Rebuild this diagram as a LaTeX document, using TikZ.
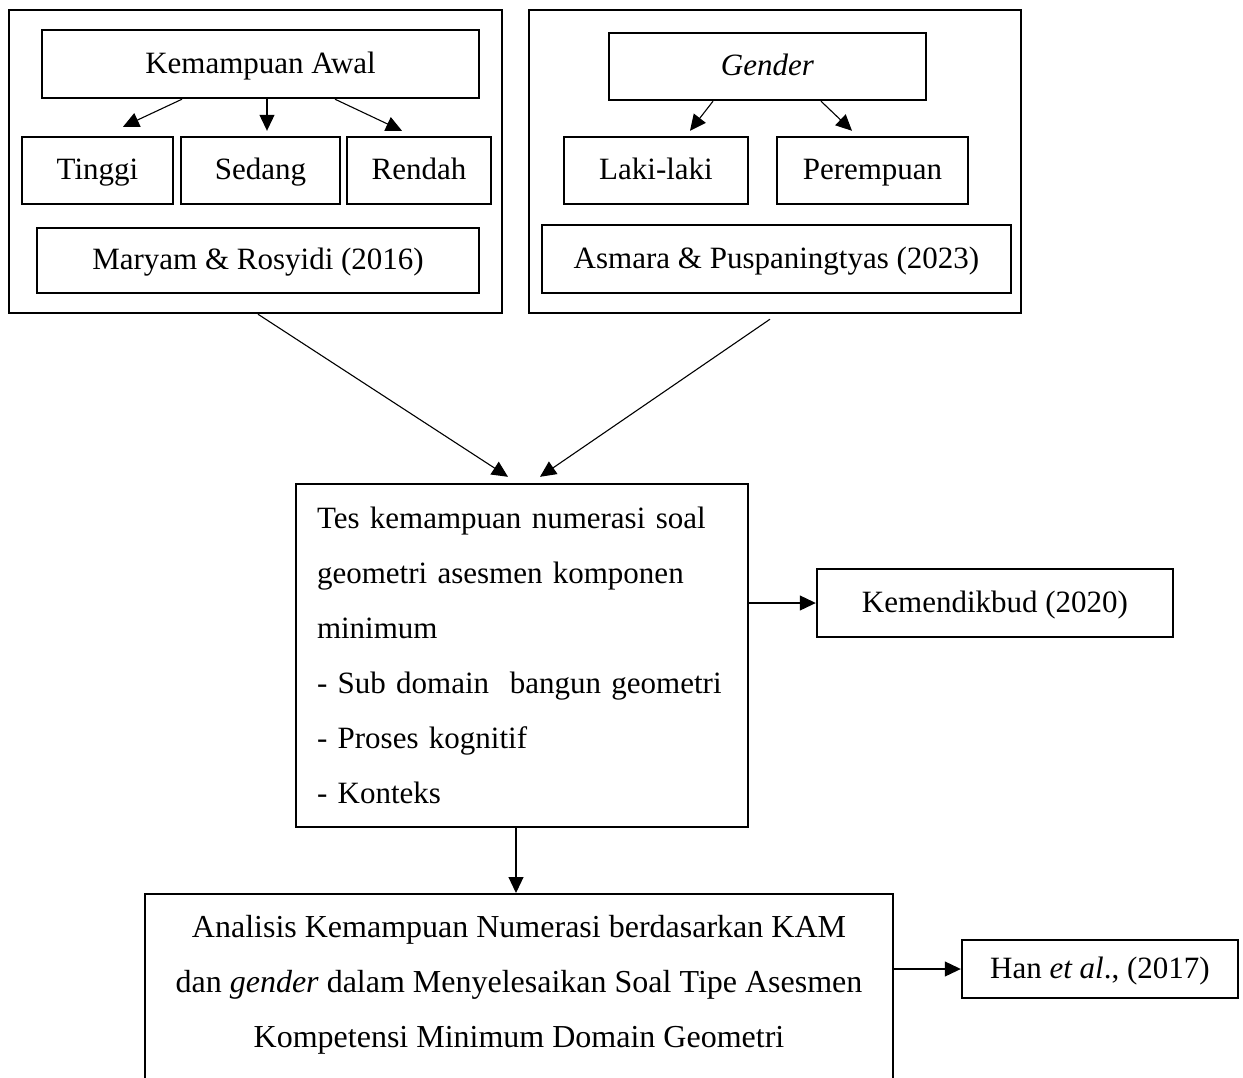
\documentclass[tikz,border=0pt]{standalone}
\usepackage{fontspec}
\setmainfont{Liberation Serif}
\usetikzlibrary{arrows.meta,calc}
\begin{document}
\begin{tikzpicture}[x=1pt,y=-1pt,
  frame/.style={draw, line width=2.4pt, inner sep=0pt, font=\fontsize{31pt}{55pt}\selectfont},
  box/.style={frame, text height=23pt, text depth=5pt},
  arr/.style={draw, line width=1.1pt, -{Triangle[length=16pt,width=15pt]}},
  txt/.style={inner sep=0pt, font=\fontsize{32pt}{55pt}\selectfont, align=center}]
\useasboundingbox (0,0) rectangle (1243,1077);
% left group
\node[frame, minimum width=493pt, minimum height=303pt] (L) at (255.5,161.5) {};
\node[box, minimum width=437pt, minimum height=68pt] (ka) at (260.5,64) {Kemampuan Awal};
\node[box, minimum width=151pt, minimum height=67pt] (ti) at (97.5,170.5) {Tinggi};
\node[box, minimum width=159pt, minimum height=67pt] (se) at (260.5,170.5) {Sedang};
\node[box, minimum width=144pt, minimum height=67pt] (re) at (419,170.5) {Rendah};
\node[box, minimum width=442pt, minimum height=65pt] (ma) at (258,260.5) {Maryam \& Rosyidi (2016)};
% right group
\node[frame, minimum width=492pt, minimum height=303pt] (R) at (775,161.5) {};
\node[box, minimum width=317pt, minimum height=67pt] (ge) at (767.5,66.5) {\textit{Gender}};
\node[box, minimum width=184pt, minimum height=67pt] (lk) at (656,170.5) {Laki-laki};
\node[box, minimum width=191pt, minimum height=67pt] (pe) at (872.5,170.5) {Perempuan};
\node[box, minimum width=469pt, minimum height=68pt] (as) at (776.5,259) {Asmara \& Puspaningtyas (2023)};
% middle
\node[frame, minimum width=452pt, minimum height=343pt, text width=410pt, inner xsep=21pt, align=left] (tes) at (522,655.5)
  {Tes kemampuan numerasi soal\\geometri asesmen komponen\\minimum\\- Sub domain\ \ bangun geometri\\- Proses kognitif\\- Konteks};
\node[box, minimum width=356pt, minimum height=68pt] (kem) at (995,603) {Kemendikbud (2020)};
% bottom
\node[frame, minimum width=748pt, minimum height=240pt, anchor=north] (anbox) at (519,893) {};
\node[txt] (antext) at (519,985) {Analisis Kemampuan Numerasi berdasarkan KAM\\dan \textit{gender} dalam Menyelesaikan Soal Tipe Asesmen\\Kompetensi Minimum Domain Geometri};
\node[box, minimum width=276pt, minimum height=58pt] (han) at (1100,969) {Han \textit{et al}., (2017)};
% arrows inside groups
\draw[arr] ([xshift=-78.5pt]ka.south) -- ([xshift=25.5pt,yshift=9pt]ti.north);
\draw[arr] ([xshift=6.5pt]ka.south) -- ([xshift=6.5pt,yshift=5pt]se.north);
\draw[arr] ([xshift=74.5pt]ka.south) -- ([xshift=-17pt,yshift=5pt]re.north);
\draw[arr] ([xshift=-54.5pt]ge.south) -- ([xshift=34pt,yshift=5pt]lk.north);
\draw[arr] ([xshift=53.5pt]ge.south) -- ([xshift=-20.5pt,yshift=5pt]pe.north);
% main arrows
\draw[arr] ([xshift=2.5pt]L.south) -- ([xshift=-14pt,yshift=6pt]tes.north);
\draw[arr] ([xshift=-5pt,yshift=-5pt]R.south) -- ([xshift=18pt,yshift=6pt]tes.north);
\draw[arr] (tes.east |- kem.west) -- (kem.west);
\draw[arr] ([xshift=-6pt]tes.south) -- ([xshift=-6pt]tes.south |- anbox.north);
\draw[arr] (anbox.east |- han.west) -- (han.west);
\end{tikzpicture}
\end{document}
